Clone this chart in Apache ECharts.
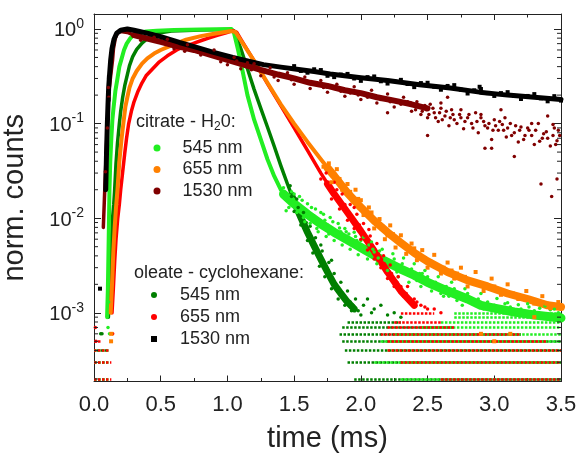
<!DOCTYPE html>
<html><head><meta charset="utf-8">
<script src="https://cdn.jsdelivr.net/npm/echarts@6/dist/echarts.min.js"></script>
<style>html,body{margin:0;padding:0;background:#fff}#c{width:577px;height:455px}</style>
</head><body><div id="c"></div>
<script>
// ---------- tick labels ----------
const xTickLabels = ['0.0','0.5','1.0','1.5','2.0','2.5','3.0','3.5'];
const yTickValues = [1, 0.1, 0.01, 0.001];
const yTickExponents = ['0','-1','-2','-3'];
const yMinorTicks = [2e-4,3e-4,4e-4,5e-4,6e-4,7e-4,8e-4,9e-4,
  2e-3,3e-3,4e-3,5e-3,6e-3,7e-3,8e-3,9e-3,
  2e-2,3e-2,4e-2,5e-2,6e-2,7e-2,8e-2,9e-2,
  0.2,0.3,0.4,0.5,0.6,0.7,0.8,0.9];
const legendLabels = {c545:'545 nm', c655:'655 nm', c1530:'1530 nm', o545:'545 nm', o655:'655 nm', o1530:'1530 nm'};

// ---------- citrate - H2O, 545 nm (bright green) ----------
const citrate545Curve = [[0.098,0.0009],[0.104,0.0018],[0.108,0.004],[0.112,0.009],[0.116,0.02],[0.122,0.04],[0.13,0.07],[0.138,0.11],[0.145,0.14],[0.16,0.22],[0.176,0.3],[0.19,0.4],[0.206,0.48],[0.225,0.6],[0.245,0.7],[0.27,0.79],[0.29,0.85],[0.33,0.9],[0.39,0.94],[0.47,0.96],[0.6,0.975],[0.8,0.985],[1.03,1.0],[1.05,0.9],[1.08,0.6],[1.11,0.38],[1.15,0.2],[1.2,0.11],[1.25,0.068],[1.3,0.042],[1.35,0.028],[1.4,0.02],[1.45,0.0165]];
const citrate545Tail = [[1.42,0.018],[1.5,0.0142],[1.6,0.011],[1.7,0.0087],[1.8,0.0071],[1.9,0.0059],[2.0,0.0049],[2.15,0.0037],[2.3,0.0029],[2.4,0.0025],[2.5,0.0021],[2.65,0.0017],[2.8,0.0014],[2.9,0.0012],[3.0,0.00112],[3.15,0.00102],[3.3,0.00095],[3.5,0.00088]];
const citrate545Noise = [[1.42,0.021],[1.46,0.013],[1.48,0.019],[1.52,0.0115],[1.54,0.017],[1.57,0.0102],[1.6,0.0142],[1.62,0.0088],[1.66,0.0125],[1.68,0.0072],[1.72,0.011],[1.74,0.0064],[1.77,0.0102],[1.8,0.0058],[1.83,0.0088],[1.86,0.0052],[1.88,0.0078],[1.92,0.0047],[1.95,0.0071],[1.98,0.0041],[2.02,0.0063],[2.05,0.0037],[2.08,0.0056],[2.12,0.0033],[2.16,0.0047],[2.2,0.0028],[2.24,0.0042],[2.28,0.0024],[2.32,0.0038],[2.36,0.0021],[2.4,0.0033],[2.45,0.0019],[2.48,0.0028],[2.53,0.0017],[2.58,0.0024],[2.62,0.0015],[2.68,0.0021],[2.72,0.00135],[2.78,0.0018],[2.84,0.00125],[2.9,0.0016],[2.96,0.00118],[3.02,0.00142],[3.1,0.00128],[3.18,0.00122],[3.26,0.00115],[3.34,0.00112],[3.42,0.00108],[3.48,0.001],[1.65,0.0105],[1.75,0.0085],[1.85,0.0072],[1.97,0.0058],[2.1,0.0044],[2.26,0.0032],[2.44,0.0026],[2.6,0.0019],[0.116,0.0006],[0.11,0.0013],[0.105,0.0007],
  [1.44,0.012],[1.5,0.018],[1.56,0.0155],[1.58,0.0092],[1.63,0.013],[1.67,0.0078],[1.7,0.0115],[1.73,0.0095],[1.76,0.0068],[1.79,0.0092],[1.82,0.0064],[1.84,0.0079],[1.87,0.0058],[1.89,0.0072],[1.91,0.0068],[1.94,0.0052],[1.96,0.0064],[2.0,0.0058],[2.03,0.0044],[2.06,0.0052],[2.09,0.0047],[2.13,0.0038],[2.14,0.0045],[2.18,0.0036],[2.22,0.0033],[2.25,0.0037],[2.27,0.0027],[2.31,0.0033],[2.34,0.0026],[2.38,0.0029],[2.42,0.0022],[2.46,0.0026],[2.5,0.0024],[2.52,0.0019],[2.56,0.0021],[2.6,0.0016],[2.64,0.0019],[2.66,0.0015],[2.7,0.0018],[2.74,0.0015],[2.76,0.0012],[2.8,0.0016],[2.82,0.0013],[2.88,0.0014],[2.92,0.0011],[2.95,0.0013],[3.0,0.0012],[3.05,0.0011],[3.08,0.00125],[3.12,0.00115],[3.2,0.0011],[3.25,0.00125],[3.3,0.00105],[3.38,0.00118],[3.45,0.0011],[3.5,0.00095]];
const citrate545Floor = [[2e-4,2.3,3.5],[3e-4,2.1,3.5],[4e-4,2.2,3.5],[5e-4,2.15,3.5],[6e-4,2.25,3.5],[7e-4,2.45,3.5],[8e-4,2.6,3.5],[9e-4,2.7,3.5],[1e-3,2.7,3.5],[2e-4,0.0,0.12],[3e-4,0.0,0.12],[4e-4,0.0,0.12]];

// ---------- citrate - H2O, 655 nm (orange) ----------
const citrate655Curve = [[0.125,0.001],[0.135,0.002],[0.145,0.0045],[0.155,0.008],[0.165,0.013],[0.176,0.02],[0.19,0.04],[0.206,0.068],[0.22,0.1],[0.235,0.15],[0.25,0.19],[0.266,0.24],[0.29,0.3],[0.32,0.36],[0.36,0.43],[0.4,0.49],[0.45,0.55],[0.5,0.6],[0.59,0.68],[0.69,0.77],[0.8,0.84],[0.9,0.89],[1.03,0.95],[1.06,0.93],[1.1,0.76],[1.2,0.46],[1.3,0.27],[1.4,0.16],[1.5,0.1],[1.6,0.064],[1.7,0.042],[1.8,0.028]];
const citrate655Tail = [[1.75,0.034],[1.8,0.028],[1.9,0.0185],[2.0,0.013],[2.1,0.0094],[2.2,0.0071],[2.3,0.0055],[2.4,0.0043],[2.5,0.0035],[2.65,0.0027],[2.8,0.0022],[2.95,0.0019],[3.1,0.0016],[3.25,0.0014],[3.4,0.0012],[3.5,0.00115]];
const citrate655Noise = [[1.82,0.033],[1.86,0.02],[1.9,0.023],[1.94,0.015],[1.98,0.016],[2.02,0.0108],[2.06,0.013],[2.1,0.0078],[2.14,0.0098],[2.18,0.006],[2.22,0.0084],[2.26,0.0049],[2.3,0.0066],[2.34,0.0042],[2.38,0.0054],[2.42,0.0036],[2.46,0.0046],[2.5,0.003],[2.55,0.0041],[2.6,0.0026],[2.65,0.0034],[2.7,0.0023],[2.75,0.003],[2.8,0.0019],[2.86,0.0027],[2.92,0.0017],[2.98,0.0023],[3.05,0.00155],[3.1,0.002],[3.18,0.0014],[3.24,0.0017],[3.3,0.00125],[3.36,0.0015],[3.42,0.00112],[3.48,0.0013],[2.9,0.0006],[3.0,0.0005],[3.12,0.0006],[3.3,0.0009],[0.13,0.0006],[0.128,0.0005],
  [1.72,0.035],[1.76,0.038],[1.78,0.024],[1.84,0.026],[1.88,0.022],[1.92,0.019],[1.96,0.02],[2.0,0.0155],[2.04,0.012],[2.08,0.0115],[2.12,0.0088],[2.16,0.0082],[2.2,0.0066],[2.24,0.0068],[2.28,0.0058],[2.32,0.0052],[2.36,0.0047],[2.4,0.0048],[2.44,0.0041],[2.48,0.0038],[2.52,0.0035],[2.57,0.0031],[2.62,0.003],[2.68,0.0028],[2.72,0.0026],[2.78,0.0024],[2.83,0.0022],[2.88,0.0021],[2.94,0.0019],[3.0,0.0019],[3.07,0.0017],[3.14,0.0016],[3.2,0.0015],[3.27,0.0014],[3.33,0.0013],[3.39,0.00125],[3.45,0.0012]];

// ---------- citrate - H2O, 1530 nm (dark red) ----------
const citrate1530Curve = [[0.07,0.008],[0.078,0.016],[0.086,0.031],[0.094,0.06],[0.1,0.093],[0.109,0.2],[0.124,0.31],[0.139,0.47],[0.146,0.62],[0.16,0.8],[0.175,0.9],[0.2,0.94],[0.25,0.92],[0.3,0.86]];
const citrate1530Tail = [[0.3,0.86],[0.4,0.79],[0.5,0.73],[0.62,0.66],[0.75,0.6],[0.88,0.53],[1.0,0.47],[1.12,0.42],[1.25,0.37],[1.38,0.33],[1.5,0.3],[1.62,0.27],[1.75,0.25],[1.88,0.225],[2.0,0.21],[2.12,0.19],[2.25,0.175],[2.38,0.16],[2.5,0.145]];
const citrate1530Noise = [[0.55,0.78],[0.6,0.62],[0.7,0.68],[0.8,0.53],[0.9,0.6],[0.95,0.45],[1.05,0.5],[1.1,0.38],[1.2,0.43],[1.25,0.32],[1.32,0.39],[1.38,0.285],[1.45,0.345],[1.5,0.26],[1.58,0.31],[1.62,0.235],[1.7,0.285],[1.75,0.215],[1.82,0.26],[1.88,0.195],[1.95,0.245],[2.0,0.18],[2.08,0.225],[2.12,0.165],[2.2,0.205],[2.25,0.15],[2.32,0.19],[2.38,0.135],[2.42,0.17],[2.45,0.125],[2.48,0.155],[2.5,0.115],[2.52,0.16],[2.55,0.13],[2.58,0.105],[2.6,0.145],[2.63,0.12],[2.66,0.095],[2.68,0.14],[2.7,0.11],[2.74,0.125],[2.77,0.088],[2.8,0.115],[2.83,0.1],[2.86,0.13],[2.88,0.08],[2.92,0.105],[2.95,0.09],[2.98,0.068],[3.0,0.11],[3.03,0.085],[3.06,0.098],[3.09,0.072],[3.12,0.1],[3.15,0.08],[3.18,0.064],[3.2,0.092],[3.23,0.075],[3.26,0.085],[3.3,0.06],[3.33,0.1],[3.36,0.07],[3.39,0.082],[3.42,0.058],[3.45,0.09],[3.47,0.066],[3.49,0.075],[2.5,0.075],[2.93,0.055],[2.98,0.055],[3.15,0.045],[3.35,0.023],[3.43,0.017],[3.47,0.026],[2.2,0.13],[1.95,0.3],[2.65,0.19],[3.05,0.14],[3.4,0.12],[0.086,0.031],[0.1,0.09],[0.108,0.24],[0.111,0.19],[0.35,0.76],[0.45,0.82],[0.68,0.58],
  [2.41,0.14],[2.43,0.155],[2.46,0.135],[2.49,0.14],[2.51,0.125],[2.54,0.145],[2.56,0.115],[2.59,0.13],[2.61,0.11],[2.64,0.135],[2.67,0.115],[2.69,0.125],[2.72,0.1],[2.75,0.115],[2.78,0.105],[2.81,0.125],[2.84,0.09],[2.87,0.105],[2.9,0.115],[2.93,0.095],[2.96,0.1],[2.99,0.085],[3.01,0.095],[3.04,0.105],[3.07,0.085],[3.1,0.09],[3.13,0.075],[3.16,0.095],[3.19,0.085],[3.22,0.068],[3.25,0.09],[3.28,0.075],[3.31,0.085],[3.34,0.065],[3.37,0.078],[3.4,0.07],[3.44,0.075],[3.46,0.06],[3.48,0.085],[2.6,0.165],[2.75,0.14],[2.9,0.125],[3.08,0.115],[3.28,0.1],[3.44,0.098],
  [1.0,0.42],[1.07,0.46],[1.15,0.44],[1.18,0.37],[1.28,0.36],[1.35,0.31],[1.42,0.32],[1.48,0.29],[1.55,0.28],[1.65,0.26],[1.72,0.24],[1.8,0.235],[1.85,0.22],[1.92,0.21],[1.98,0.2],[2.05,0.19],[2.15,0.18],[2.22,0.17],[2.3,0.16],[2.35,0.17]];

// ---------- oleate - cyclohexane, 545 nm (dark green) ----------
const oleate545Curve = [[0.108,0.0009],[0.115,0.0016],[0.122,0.003],[0.13,0.0055],[0.139,0.01],[0.148,0.014],[0.154,0.019],[0.165,0.038],[0.176,0.062],[0.19,0.1],[0.2,0.135],[0.215,0.19],[0.23,0.25],[0.25,0.33],[0.266,0.41],[0.29,0.51],[0.32,0.61],[0.36,0.71],[0.39,0.77],[0.43,0.84],[0.47,0.89],[0.51,0.92],[0.58,0.95],[0.64,0.96],[0.8,0.975],[1.03,0.985],[1.05,0.95],[1.1,0.62],[1.15,0.38],[1.2,0.23],[1.25,0.145],[1.3,0.092],[1.35,0.058],[1.4,0.036],[1.45,0.023],[1.5,0.015]];
const oleate545Tail = [[1.48,0.0175],[1.5,0.015],[1.55,0.0102],[1.6,0.0071],[1.65,0.0051],[1.7,0.0037],[1.75,0.0027],[1.8,0.002],[1.85,0.0016],[1.9,0.0013],[1.95,0.0011]];
const oleate545Noise = [[1.47,0.022],[1.5,0.0118],[1.52,0.016],[1.55,0.0085],[1.57,0.0115],[1.6,0.0058],[1.62,0.0082],[1.64,0.0043],[1.66,0.0062],[1.69,0.0031],[1.71,0.0045],[1.73,0.0024],[1.76,0.0034],[1.78,0.0018],[1.8,0.0026],[1.83,0.0014],[1.85,0.0021],[1.88,0.0012],[1.9,0.0017],[1.93,0.00105],[1.96,0.0014],[2.0,0.00095],[2.02,0.0012],[2.1,0.0011],[2.2,0.00095],[2.3,0.0009],[1.7,0.0052],[1.78,0.0036],[2.05,0.0014],[0.05,0.0006],[0.06,0.0006],
  [1.48,0.017],[1.53,0.013],[1.56,0.0098],[1.59,0.009],[1.61,0.0066],[1.63,0.0062],[1.66,0.0047],[1.68,0.0042],[1.72,0.0033],[1.74,0.0031],[1.77,0.0025],[1.79,0.0022],[1.82,0.0019],[1.84,0.0017],[1.87,0.0015],[1.89,0.0014],[1.92,0.0013],[1.94,0.0012],[1.98,0.00105],[2.08,0.001],[2.15,0.0012],[2.25,0.001]];
const oleate545Floor = [[2e-4,1.95,3.5],[3e-4,1.9,3.5],[4e-4,1.88,3.5],[5e-4,1.86,3.5],[6e-4,1.84,3.2],[7e-4,1.86,2.7],[8e-4,1.9,2.3],[2e-4,0.0,0.1],[3e-4,0.0,0.1],[4e-4,0.02,0.1]];

// ---------- oleate - cyclohexane, 655 nm (red) ----------
const oleate655Curve = [[0.135,0.001],[0.145,0.0018],[0.155,0.0035],[0.165,0.006],[0.178,0.01],[0.19,0.014],[0.2,0.02],[0.214,0.03],[0.23,0.048],[0.244,0.07],[0.26,0.1],[0.28,0.135],[0.3,0.17],[0.33,0.22],[0.36,0.27],[0.39,0.32],[0.44,0.38],[0.49,0.45],[0.55,0.52],[0.62,0.6],[0.68,0.66],[0.74,0.7],[0.81,0.76],[0.87,0.81],[0.93,0.86],[0.99,0.91],[1.04,0.96],[1.07,0.92],[1.1,0.78],[1.2,0.46],[1.3,0.265],[1.4,0.155],[1.5,0.09],[1.6,0.052],[1.7,0.03],[1.8,0.018]];
const oleate655Tail = [[1.75,0.023],[1.8,0.018],[1.9,0.0115],[2.0,0.0073],[2.1,0.0045],[2.2,0.0027],[2.3,0.0017],[2.4,0.0012]];
const oleate655Noise = [[1.74,0.03],[1.78,0.016],[1.8,0.024],[1.84,0.0125],[1.86,0.018],[1.9,0.0095],[1.92,0.014],[1.95,0.0078],[1.97,0.011],[2.0,0.006],[2.02,0.0088],[2.05,0.0046],[2.07,0.0065],[2.1,0.0037],[2.12,0.0054],[2.15,0.003],[2.17,0.004],[2.2,0.0023],[2.22,0.0032],[2.25,0.0019],[2.28,0.0024],[2.32,0.0015],[2.35,0.0019],[2.4,0.0014],[2.45,0.0012],[2.5,0.0011],[1.95,0.013],[2.06,0.0076],[0.01,0.0007],[0.015,0.0005],[0.14,0.0006],
  [1.7,0.026],[1.76,0.022],[1.82,0.02],[1.88,0.014],[1.93,0.0095],[1.99,0.0085],[2.03,0.0065],[2.08,0.0052],[2.13,0.0042],[2.18,0.0032],[2.23,0.0026],[2.27,0.0021],[2.3,0.0019],[2.34,0.0016],[2.37,0.0014],[2.42,0.0013],[2.48,0.00115],[2.55,0.0011],[2.6,0.001]];
const oleate655Floor = [[2e-4,2.6,3.5],[3e-4,2.3,3.5],[4e-4,2.2,3.5],[5e-4,2.2,3.4],[6e-4,2.15,3.2],[7e-4,2.2,2.7],[8e-4,2.25,2.6],[1e-3,2.3,2.55],[2e-4,0.0,0.13],[3e-4,0.0,0.13],[4e-4,0.0,0.12],[5e-4,0.0,0.06]];

// ---------- oleate - cyclohexane, 1530 nm (black) ----------
const oleate1530Curve = [[0.088,0.02],[0.094,0.05],[0.1,0.1],[0.105,0.16],[0.11,0.24],[0.116,0.32],[0.125,0.47],[0.135,0.62],[0.15,0.78],[0.17,0.9],[0.2,0.97],[0.25,1.0],[0.3,0.97],[0.39,0.91],[0.5,0.83],[0.64,0.72],[0.75,0.65],[0.89,0.57],[1.04,0.5],[1.15,0.46],[1.27,0.42],[1.4,0.395],[1.52,0.375],[1.65,0.355],[1.77,0.335],[2.0,0.305],[2.2,0.285],[2.44,0.258],[2.67,0.238],[2.89,0.215],[3.1,0.2],[3.3,0.19],[3.5,0.18]];
const oleate1530Noise = [[1.5,0.405],[1.6,0.345],[1.7,0.368],[1.8,0.31],[1.9,0.335],[2.0,0.283],[2.1,0.315],[2.2,0.265],[2.3,0.29],[2.4,0.243],[2.5,0.27],[2.6,0.228],[2.7,0.255],[2.8,0.208],[2.9,0.232],[3.0,0.196],[3.1,0.215],[3.2,0.182],[3.3,0.205],[3.4,0.172],[3.45,0.195],[2.89,0.245],[0.045,0.0018],[0.109,0.18],[0.112,0.31],
  [1.55,0.36],[1.65,0.375],[1.75,0.32],[1.85,0.33],[1.95,0.3],[2.05,0.31],[2.15,0.28],[2.25,0.282],[2.35,0.262],[2.45,0.268],[2.55,0.245],[2.65,0.25],[2.75,0.228],[2.85,0.225],[2.95,0.21],[3.05,0.21],[3.15,0.196],[3.25,0.196],[3.35,0.185],[3.45,0.182],[3.5,0.175]];

const FONT = 'Liberation Sans, Arial, sans-serif';
const AX = '#222';
const C = {c545:'#22ee22', c655:'#ff8000', c1530:'#800000', o545:'#007f00', o655:'#ff0000', o1530:'#000000'};

function lineS(name, data, color, width){
  return {type:'line', name:name, data, showSymbol:false, symbol:'none', smooth:false,
    lineStyle:{color, width, join:'round', cap:'round'}, itemStyle:{color}, z:3, silent:true};
}
function scatS(name, data, color, size, symbol){
  return {type:'scatter', name, data, symbol:symbol||'circle', symbolSize:size, itemStyle:{color, opacity:1}, z:3, silent:true};
}
function floorS(name, rows, color){
  return {type:'lines', name:name, coordinateSystem:'cartesian2d', xAxisIndex:0, yAxisIndex:0, polyline:false, silent:true, z:2,
    lineStyle:{color, width:2.5, type:[2.5,1.5], opacity:1},
    data: rows.map(r => ({coords:[[r[1], r[0]], [r[2], r[0]]]}))};
}
function yIdx(v){
  for (let i=0;i<yTickValues.length;i++){ if (Math.abs(Math.log10(v)-Math.log10(yTickValues[i]))<1e-6) return i; }
  return -1;
}
const axisCommonX = {type:'value', min:0, max:3.5, interval:0.5,
  axisLine:{show:true, onZero:false, lineStyle:{color:AX, width:1}},
  axisTick:{show:true, inside:true, length:6, lineStyle:{color:AX}},
  minorTick:{show:true, splitNumber:2, length:3.5, lineStyle:{color:AX}},
  splitLine:{show:false}, minorSplitLine:{show:false}};
const axisCommonY = {type:'log', logBase:10, min:1.88e-4, max:1.44,
  axisLine:{show:true, onZero:false, lineStyle:{color:AX, width:1}},
  axisTick:{show:true, inside:true, length:7, lineStyle:{color:AX}},
  splitLine:{show:false}, minorTick:{show:false}};

const chart = echarts.init(document.getElementById('c'), null, {renderer:'canvas'});
chart.setOption({
  animation:false,
  backgroundColor:'#fff',
  grid:{left:94, right:16, top:14, bottom:73.5, containLabel:false, outerBoundsMode:'none'},
  title:[
    {left:136, top:111, padding:0, text:'{a|citrate - H}{s|2}{a|0:}',
     textStyle:{fontWeight:'normal', rich:{a:{fontFamily:FONT, fontSize:18, fontWeight:'normal', color:'#222', lineHeight:22}, s:{fontFamily:FONT, fontSize:12, fontWeight:'normal', color:'#222', verticalAlign:'bottom', lineHeight:14}}}},
    {left:134, top:262, padding:0, text:'oleate - cyclohexane:',
     textStyle:{fontFamily:FONT, fontSize:18, color:'#222', fontWeight:'normal', lineHeight:22}}
  ],
  legend:[
    {left:153.5, top:138, orient:'vertical', padding:0, itemWidth:7, itemHeight:7, itemGap:1.5, selectedMode:false,
     data:[{name:'c545',icon:'circle'},{name:'c655',icon:'circle'},{name:'c1530',icon:'circle'}],
     formatter:n=>legendLabels[n],
     textStyle:{fontFamily:FONT, fontSize:18, color:'#222', lineHeight:20, padding:[0,0,0,17]}},
    {left:151, top:285, orient:'vertical', padding:0, itemWidth:6, itemHeight:6, itemGap:2, selectedMode:false,
     data:[{name:'o545',icon:'circle'},{name:'o655',icon:'circle'},{name:'o1530',icon:'rect'}],
     formatter:n=>legendLabels[n],
     textStyle:{fontFamily:FONT, fontSize:18, color:'#222', lineHeight:20, padding:[0,0,0,18]}}
  ],
  xAxis:[
    Object.assign({}, axisCommonX, {position:'bottom',
      axisLabel:{show:true, fontFamily:FONT, fontSize:22, color:'#222', margin:12,
        formatter:v=>{const i=Math.round(v/0.5); return (Math.abs(v-i*0.5)<1e-6 && xTickLabels[i]) ? xTickLabels[i] : '';}},
      name:'time (ms)', nameLocation:'middle', nameGap:43,
      nameTextStyle:{fontFamily:FONT, fontSize:29, color:'#222'}}),
    Object.assign({}, axisCommonX, {position:'top', axisLabel:{show:false}})
  ],
  yAxis:[
    Object.assign({}, axisCommonY, {position:'left',
      axisLabel:{show:true, margin:10, showMinLabel:false, showMaxLabel:false,
        formatter:v=>{const i=yIdx(v); return i<0 ? '' : '{b|10}{s|'+yTickExponents[i]+'}';},
        rich:{b:{fontFamily:FONT, fontSize:20, color:'#222', lineHeight:24, verticalAlign:'bottom'},
              s:{fontFamily:FONT, fontSize:14, color:'#222', lineHeight:14, verticalAlign:'top'}}},
      name:'norm. counts', nameLocation:'middle', nameGap:65,
      nameTextStyle:{fontFamily:FONT, fontSize:29, color:'#222'}}),
    Object.assign({}, axisCommonY, {position:'right', axisLabel:{show:false}})
  ],
  series:[
    floorS('o545 floor', oleate545Floor, C.o545),
    floorS('c545 floor', citrate545Floor, C.c545),
    floorS('o655 floor', oleate655Floor, C.o655),
    scatS('o545', oleate545Noise, C.o545, 3.5),
    lineS('o545 curve', oleate545Curve, C.o545, 3.5),
    lineS('o545 tail', oleate545Tail, C.o545, 7),
    scatS('c545', citrate545Noise, C.c545, 3.5),
    lineS('c545 curve', citrate545Curve, C.c545, 4),
    lineS('c545 tail', citrate545Tail, C.c545, 9),
    scatS('o655', oleate655Noise, C.o655, 3.5),
    lineS('o655 curve', oleate655Curve, C.o655, 3.5),
    lineS('o655 tail', oleate655Tail, C.o655, 7),
    scatS('c655', citrate655Noise, C.c655, 4, 'rect'),
    lineS('c655 curve', citrate655Curve, C.c655, 4),
    lineS('c655 tail', citrate655Tail, C.c655, 8),
    scatS('c1530', citrate1530Noise, C.c1530, 3.5),
    lineS('c1530 curve', citrate1530Curve, C.c1530, 3.5),
    lineS('c1530 tail', citrate1530Tail, C.c1530, 6),
    scatS('o1530', oleate1530Noise, C.o1530, 4, 'rect'),
    lineS('o1530 curve', oleate1530Curve, C.o1530, 5),
    {type:'custom', name:'minorTicks', xAxisIndex:0, yAxisIndex:0, silent:true, clip:false, z:10,
     data: yMinorTicks.map(v=>[0, v]), encode:{x:0, y:1},
     renderItem:(params, api)=>{
       const v = api.value(1);
       const p0 = api.coord([0, v]);
       const p1 = api.coord([3.5, v]);
       return {type:'group', children:[
         {type:'line', shape:{x1:p0[0], y1:p0[1], x2:p0[0]+4, y2:p0[1]}, style:{stroke:AX, lineWidth:1}},
         {type:'line', shape:{x1:p1[0], y1:p1[1], x2:p1[0]-4, y2:p1[1]}, style:{stroke:AX, lineWidth:1}}
       ]};
     }}
  ]
});
</script></body></html>
